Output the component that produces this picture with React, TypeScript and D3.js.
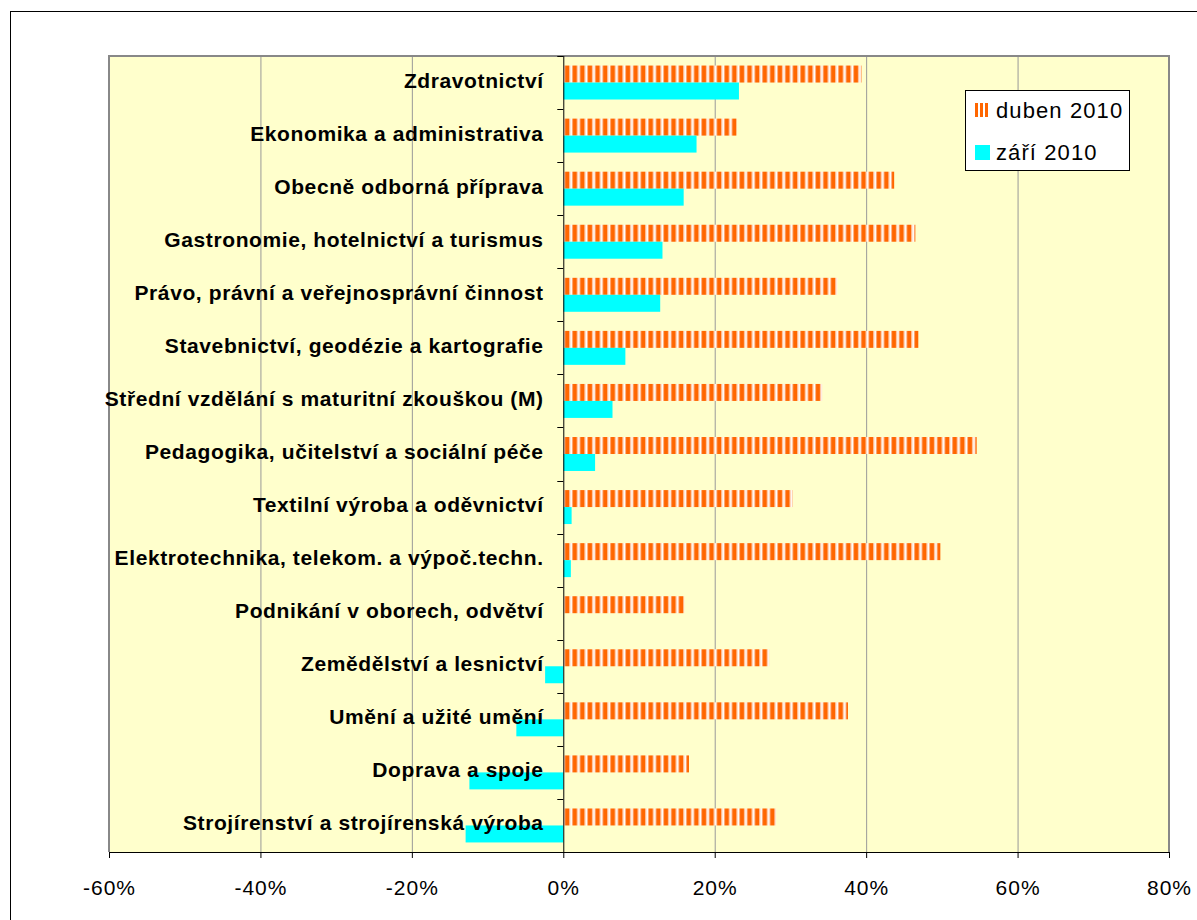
import React, { useEffect, useRef } from "react";
import * as d3 from "d3";

const categories = [
  "Zdravotnictví",
  "Ekonomika a administrativa",
  "Obecně odborná příprava",
  "Gastronomie, hotelnictví a turismus",
  "Právo, právní a veřejnosprávní činnost",
  "Stavebnictví, geodézie a kartografie",
  "Střední vzdělání s maturitní zkouškou (M)",
  "Pedagogika, učitelství a sociální péče",
  "Textilní výroba a oděvnictví",
  "Elektrotechnika, telekom. a výpoč.techn.",
  "Podnikání v oborech, odvětví",
  "Zemědělství a lesnictví",
  "Umění a užité umění",
  "Doprava a spoje",
  "Strojírenství a strojírenská výroba",
];
const duben2010 = [39.4, 22.9, 43.7, 46.5, 36.2, 46.9, 34.2, 54.6, 30.3, 49.8, 16.0, 27.2, 37.6, 16.6, 28.1];
const zari2010 = [23.2, 17.6, 15.9, 13.1, 12.8, 8.2, 6.5, 4.2, 1.1, 1.0, 0, -2.4, -6.2, -12.4, -12.9];
const xTicks = [-60, -40, -20, 0, 20, 40, 60, 80];
const seriesNames = ["duben 2010", "září 2010"];

export default function App() {
  const ref = useRef<SVGSVGElement>(null);

  useEffect(() => {
    const svg = d3.select(ref.current);
    svg.selectAll("*").remove();
    const left = 109, right = 1169, top = 56, bottom = 852;
    const font = "'Liberation Sans', Arial, sans-serif";

    const x = d3.scaleLinear().domain([-60, 80]).range([left, right]);
    const y = d3.scaleBand<string>().domain(categories).range([top, bottom]).paddingInner(0.36).paddingOuter(0.18);

    // stripe pattern for first series
    const defs = svg.append("defs");
    const pat = defs.append("pattern")
      .attr("id", "stripes")
      .attr("patternUnits", "userSpaceOnUse")
      .attr("x", x(0) + 1)
      .attr("y", 0)
      .attr("width", 7.6)
      .attr("height", 20);
    pat.append("rect").attr("width", 7.6).attr("height", 20).attr("fill", "#ffffff");
    pat.append("rect").attr("x", 0).attr("width", 1).attr("height", 20).attr("fill", "#ffb080");
    pat.append("rect").attr("x", 1).attr("width", 4).attr("height", 20).attr("fill", "#ff6600");
    pat.append("rect").attr("x", 5).attr("width", 1).attr("height", 20).attr("fill", "#ffb080");

    // outer border
    svg.append("rect")
      .attr("x", 10.5).attr("y", 11.5)
      .attr("width", 1200).attr("height", 1000)
      .attr("fill", "#fff").attr("stroke", "#000").attr("stroke-width", 1);

    // plot area
    svg.append("rect")
      .attr("x", left).attr("y", top)
      .attr("width", right - left).attr("height", bottom - top)
      .attr("fill", "#ffffcc");

    // gridlines
    svg.append("g")
      .selectAll("line")
      .data(xTicks.filter(t => t !== 0))
      .join("line")
      .attr("x1", d => x(d) + 0.5).attr("x2", d => x(d) + 0.5)
      .attr("y1", top).attr("y2", bottom)
      .attr("stroke", "#999").attr("stroke-width", 1);

    // plot border top/left/right
    svg.append("path")
      .attr("d", `M${left},${bottom}V${top}H${right}V${bottom}`)
      .attr("fill", "none").attr("stroke", "#888").attr("stroke-width", 2);

    const half = y.bandwidth() / 2;
    const zero = x(0);

    // bars
    svg.append("g")
      .selectAll("rect")
      .data(categories)
      .join("rect")
      .attr("x", (d, i) => Math.min(zero, x(duben2010[i])))
      .attr("y", d => y(d)!)
      .attr("width", (d, i) => Math.abs(x(duben2010[i]) - zero))
      .attr("height", half)
      .attr("fill", "url(#stripes)");

    svg.append("g")
      .selectAll("rect")
      .data(categories)
      .join("rect")
      .attr("x", (d, i) => Math.min(zero, x(zari2010[i])))
      .attr("y", d => y(d)! + half)
      .attr("width", (d, i) => Math.abs(x(zari2010[i]) - zero))
      .attr("height", half)
      .attr("fill", "#00ffff");

    // vertical category axis at 0
    const step = y.step();
    svg.append("line")
      .attr("x1", zero + 0.5).attr("x2", zero + 0.5)
      .attr("y1", top).attr("y2", bottom)
      .attr("stroke", "#000").attr("stroke-width", 1);
    svg.append("g")
      .selectAll("line")
      .data(d3.range(categories.length + 1))
      .join("line")
      .attr("x1", zero - 6).attr("x2", zero)
      .attr("y1", i => Math.round(top + i * step) + 0.5)
      .attr("y2", i => Math.round(top + i * step) + 0.5)
      .attr("stroke", "#000");

    // category labels
    svg.append("g")
      .selectAll("text")
      .data(categories)
      .join("text")
      .attr("x", 543.6)
      .attr("y", d => y(d)! + half + 5)
      .attr("text-anchor", "end")
      .attr("font-family", font)
      .attr("font-weight", "bold")
      .attr("font-size", 21)
      .attr("letter-spacing", 0.6)
      .attr("fill", "#000")
      .text(d => d);

    // x axis
    svg.append("line")
      .attr("x1", left).attr("x2", right)
      .attr("y1", bottom + 0.5).attr("y2", bottom + 0.5)
      .attr("stroke", "#000");
    svg.append("g")
      .selectAll("line")
      .data(xTicks)
      .join("line")
      .attr("x1", d => x(d) + 0.5).attr("x2", d => x(d) + 0.5)
      .attr("y1", bottom).attr("y2", bottom + 6)
      .attr("stroke", "#000");
    svg.append("g")
      .selectAll("text")
      .data(xTicks)
      .join("text")
      .attr("x", d => x(d) + 0.5)
      .attr("y", 895)
      .attr("text-anchor", "middle")
      .attr("font-family", font)
      .attr("font-size", 21)
      .attr("letter-spacing", 1)
      .attr("fill", "#000")
      .text(d => `${d}%`);

    // legend
    const lg = svg.append("g");
    lg.append("rect")
      .attr("x", 965.5).attr("y", 90.5)
      .attr("width", 164).attr("height", 80)
      .attr("fill", "#fff").attr("stroke", "#000");
    const fills = ["url(#stripes)", "#00ffff"];
    seriesNames.forEach((name, i) => {
      const cy = 110 + i * 42;
      if (i === 0) {
        [0, 1, 2].forEach(k => {
          lg.append("rect").attr("x", 975 + k * 5).attr("y", cy - 7).attr("width", 3).attr("height", 14).attr("fill", "#ff6600");
        });
      } else {
        lg.append("rect").attr("x", 975).attr("y", cy - 7).attr("width", 15).attr("height", 15).attr("fill", fills[i]);
      }
      lg.append("text")
        .attr("x", 996).attr("y", cy + 8)
        .attr("font-family", font)
        .attr("font-size", 22)
        .attr("letter-spacing", 1.1)
        .attr("fill", "#000")
        .text(name);
    });
  }, []);

  return (
    <svg
      ref={ref}
      width={1197}
      height={920}
      style={{ position: "absolute", left: 0, top: 0, background: "#fff" }}
    />
  );
}
